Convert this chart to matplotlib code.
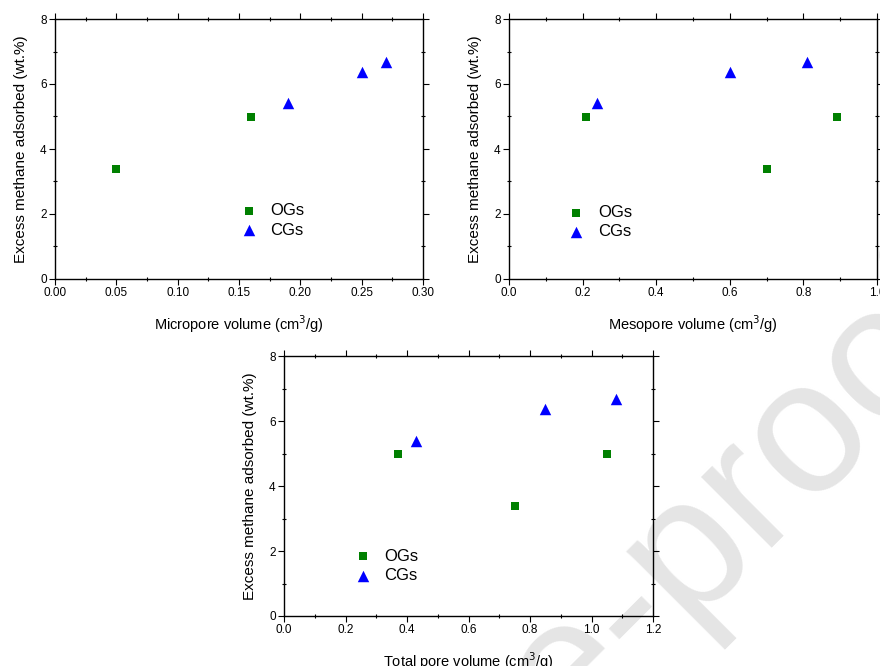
import matplotlib
matplotlib.use("Agg")
import matplotlib.pyplot as plt
from matplotlib.ticker import MultipleLocator, FormatStrFormatter

plt.rcParams['font.family'] = ['Liberation Sans', 'DejaVu Sans']

# Data
ads_og = [3.38, 4.98, 4.98]
ads_cg = [5.40, 6.38, 6.69]
micro_og = [0.05, 0.16, 0.16]
micro_cg = [0.19, 0.25, 0.27]
meso_og = [0.70, 0.21, 0.89]
meso_cg = [0.24, 0.60, 0.81]
total_og = [0.75, 0.37, 1.05]
total_cg = [0.43, 0.85, 1.08]
labels = ["OGs", "CGs"]
ylabel = "Excess methane adsorbed (wt.%)"

fig = plt.figure(figsize=(8.8, 6.66), dpi=100)

# watermark
fig.text(-0.044, -1.039, "Journal Pre-proof", fontsize=136, color='#e5e5e5',
         rotation=45, rotation_mode='anchor', ha='left', va='baseline', zorder=-1)

W, H = 880, 666
def ax_rect(l, r, t, b):
    return [l / W, 1 - b / H, (r - l) / W, (b - t) / H]

specs = [
    (ax_rect(55, 423, 19, 279), micro_og, micro_cg, (0, 0.30), 0.05, 0.025, '%.2f',
     "Micropore volume (cm$^3$/g)", (0.481, 0.225)),
    (ax_rect(509, 877, 19, 279), meso_og, meso_cg, (0, 1.0), 0.2, 0.1, '%.1f',
     "Mesopore volume (cm$^3$/g)", (0.138, 0.218)),
    (ax_rect(284, 653, 356, 616), total_og, total_cg, (0, 1.2), 0.2, 0.1, '%.1f',
     "Total pore volume (cm$^3$/g)", (0.168, 0.193)),
]

for rect, xo, xc, xlim, maj, mnr, fmt, xlabel, legpos in specs:
    ax = fig.add_axes(rect)
    ax.set_facecolor('none')
    ax.scatter(xo, ads_og, marker='s', s=38, color='#008000', label=labels[0], zorder=3, linewidths=0)
    ax.scatter(xc, ads_cg, marker='^', s=68, color='#0000ff', label=labels[1], zorder=3, linewidths=0)
    ax.set_xlim(*xlim)
    ax.set_ylim(0, 8)
    ax.xaxis.set_major_locator(MultipleLocator(maj))
    ax.xaxis.set_minor_locator(MultipleLocator(mnr))
    ax.xaxis.set_major_formatter(FormatStrFormatter(fmt))
    ax.yaxis.set_major_locator(MultipleLocator(2))
    ax.yaxis.set_minor_locator(MultipleLocator(1))
    ax.tick_params(which='major', direction='out', length=4, width=0.8, labelsize=8.5,
                   top=True, right=True, pad=2)
    ax.tick_params(which='minor', direction='inout', length=3, width=0.8, top=True, right=True)
    for s in ax.spines.values():
        s.set_linewidth(1.0)
    ax.set_xlabel(xlabel, fontsize=10.5, labelpad=10)
    ax.set_ylabel(ylabel, fontsize=11, labelpad=9)
    ax.legend(loc='center left', bbox_to_anchor=legpos, frameon=False, fontsize=12,
              handletextpad=0.8, labelspacing=0.25, borderpad=0, handlelength=1.0,
              scatterpoints=1)

fig.savefig("out.png", dpi=100)
